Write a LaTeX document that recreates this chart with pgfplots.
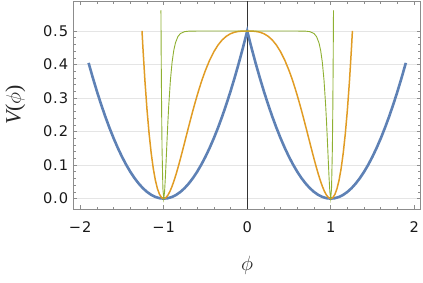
\documentclass[border=0pt]{standalone}
\usepackage{fontspec}
\usepackage{pgfplots}
\pgfplotsset{compat=1.18}
\setmainfont{DejaVu Sans}
\newfontfamily\tickfont[LetterSpace=6]{DejaVu Sans}
\newfontfamily\labfont{Liberation Serif}
\definecolor{mblue}{rgb}{0.368417,0.506779,0.709798}
\definecolor{morange}{rgb}{0.880722,0.611041,0.142051}
\definecolor{mgreen}{rgb}{0.560181,0.691569,0.194885}
\definecolor{framegray}{gray}{0.55}
\definecolor{gridgray}{gray}{0.90}
\newcommand{\tl}[1]{\mbox{\tickfont #1}}
\begin{document}
\begin{tikzpicture}
\useasboundingbox (-73.3bp,-74bp) rectangle (349.7bp,209bp);
\begin{axis}[
  at={(0,0)}, anchor=south west,
  scale only axis, width=347.4bp, height=208bp,
  xmin=-2.083, xmax=2.078, ymin=-0.031, ymax=0.5896,
  xtick={-2,-1,0,1,2}, xticklabels={\tl{−2},\tl{−1},\tl{0},\tl{1},\tl{2}},
  ytick={0,0.1,0.2,0.3,0.4,0.5}, yticklabels={\tl{0.0},\tl{0.1},\tl{0.2},\tl{0.3},\tl{0.4},\tl{0.5}},
  minor x tick num=4, minor y tick num=4,
  tick align=inside, major tick length=4bp, minor tick length=2.5bp,
  axis line style={framegray, line width=0.8bp},
  every tick/.style={framegray, line width=0.6bp},
  ymajorgrids, major grid style={gridgray, line width=0.7bp},
  ticklabel style={font=\fontsize{14.7}{16}\selectfont, text=black!90, inner sep=0pt},
  xticklabel style={anchor=north, yshift=-12.3bp},
  yticklabel style={anchor=east, xshift=-5bp},
  xlabel={$\phi$},
  ylabel={{\labfont\itshape V\upshape(}$\phi${\labfont)}},
  label style={font=\fontsize{22}{24}\selectfont, text=black!85},
  xlabel style={at={(rel axis cs:0.5,0)}, anchor=center, yshift=-56bp},
  ylabel style={at={(rel axis cs:0,0.5)}, anchor=center, yshift=58bp},
  clip=true,
]
\addplot[black!80, line width=0.8bp] coordinates {(0,-0.031) (0,0.5896)};
% blue: thick
\addplot[mblue, line width=2.6bp] coordinates {
(-1.9,0.405) (-1.85,0.36125) (-1.8,0.32) (-1.75,0.28125) (-1.7,0.245) (-1.65,0.21125) (-1.6,0.18) (-1.55,0.15125)
(-1.5,0.125) (-1.45,0.10125) (-1.4,0.08) (-1.35,0.06125) (-1.3,0.045) (-1.25,0.03125) (-1.2,0.02) (-1.15,0.01125)
(-1.1,0.005) (-1.05,0.00125) (-1.0,0)
(-0.95,0.00125) (-0.9,0.005) (-0.85,0.01125) (-0.8,0.02) (-0.75,0.03125) (-0.7,0.045) (-0.65,0.06125) (-0.6,0.08)
(-0.55,0.10125) (-0.5,0.125) (-0.45,0.15125) (-0.4,0.18) (-0.35,0.21125) (-0.3,0.245) (-0.25,0.28125) (-0.2,0.32)
(-0.15,0.36125) (-0.1,0.405) (-0.05,0.45125) (0,0.5)
(0.05,0.45125) (0.1,0.405) (0.15,0.36125) (0.2,0.32) (0.25,0.28125) (0.3,0.245) (0.35,0.21125) (0.4,0.18)
(0.45,0.15125) (0.5,0.125) (0.55,0.10125) (0.6,0.08) (0.65,0.06125) (0.7,0.045) (0.75,0.03125) (0.8,0.02)
(0.85,0.01125) (0.9,0.005) (0.95,0.00125) (1.0,0)
(1.05,0.00125) (1.1,0.005) (1.15,0.01125) (1.2,0.02) (1.25,0.03125) (1.3,0.045) (1.35,0.06125) (1.4,0.08)
(1.45,0.10125) (1.5,0.125) (1.55,0.15125) (1.6,0.18) (1.65,0.21125) (1.7,0.245) (1.75,0.28125) (1.8,0.32)
(1.85,0.36125) (1.9,0.405)
};
% orange
\addplot[morange, line width=1.5bp] coordinates {
(-1.26,0.5004) (-1.25,0.4542) (-1.225,0.35134) (-1.2,0.2650) (-1.175,0.19359) (-1.15,0.1357) (-1.125,0.08981)
(-1.1,0.0548) (-1.075,0.02935) (-1.05,0.0124) (-1.025,0.00296) (-1.0,0)
(-0.975,0.00268) (-0.95,0.0102) (-0.925,0.02175) (-0.9,0.0367) (-0.875,0.05448) (-0.85,0.0744) (-0.825,0.09613)
(-0.8,0.1191) (-0.775,0.14285) (-0.75,0.1671) (-0.725,0.19153) (-0.7,0.2158) (-0.675,0.23975) (-0.65,0.2631)
(-0.625,0.28566) (-0.6,0.3073) (-0.575,0.32796) (-0.55,0.3475) (-0.525,0.36577) (-0.5,0.3828) (-0.45,0.41302)
(-0.4,0.4380) (-0.35,0.45804) (-0.3,0.4734) (-0.25,0.48450) (-0.2,0.4920) (-0.15,0.49663) (-0.1,0.4990) (-0.05,0.49988) (0,0.5)
(0.05,0.49988) (0.1,0.4990) (0.15,0.49663) (0.2,0.4920) (0.25,0.48450) (0.3,0.4734) (0.35,0.45804) (0.4,0.4380)
(0.45,0.41302) (0.5,0.3828) (0.525,0.36577) (0.55,0.3475) (0.575,0.32796) (0.6,0.3073) (0.625,0.28566) (0.65,0.2631)
(0.675,0.23975) (0.7,0.2158) (0.725,0.19153) (0.75,0.1671) (0.775,0.14285) (0.8,0.1191) (0.825,0.09613) (0.85,0.0744)
(0.875,0.05448) (0.9,0.0367) (0.925,0.02175) (0.95,0.0102) (0.975,0.00268) (1.0,0)
(1.025,0.00296) (1.05,0.0124) (1.075,0.02935) (1.1,0.0548) (1.125,0.08981) (1.15,0.1357) (1.175,0.19359)
(1.2,0.2650) (1.225,0.35134) (1.25,0.4542) (1.26,0.5004)
};
% green
\addplot[mgreen, line width=0.9bp] coordinates {
(-1.0334,0.5620) (-1.03,0.4196) (-1.025,0.2603) (-1.02,0.1490) (-1.01,0.0299) (-1.0,0)
(-0.99,0.0197) (-0.98,0.0644) (-0.97,0.1192) (-0.96,0.1756) (-0.95,0.2288) (-0.94,0.2765) (-0.92,0.3530)
(-0.9,0.4064) (-0.88,0.4417) (-0.86,0.4644) (-0.83,0.4836) (-0.8,0.4926) (-0.75,0.4982) (-0.7,0.4996) (-0.6,0.5) (0,0.5)
(0.6,0.5) (0.7,0.4996) (0.75,0.4982) (0.8,0.4926) (0.83,0.4836) (0.86,0.4644) (0.88,0.4417) (0.9,0.4064)
(0.92,0.3530) (0.94,0.2765) (0.95,0.2288) (0.96,0.1756) (0.97,0.1192) (0.98,0.0644) (0.99,0.0197) (1.0,0)
(1.01,0.0299) (1.02,0.1490) (1.025,0.2603) (1.03,0.4196) (1.0334,0.5620)
};
\end{axis}
\end{tikzpicture}
\end{document}
